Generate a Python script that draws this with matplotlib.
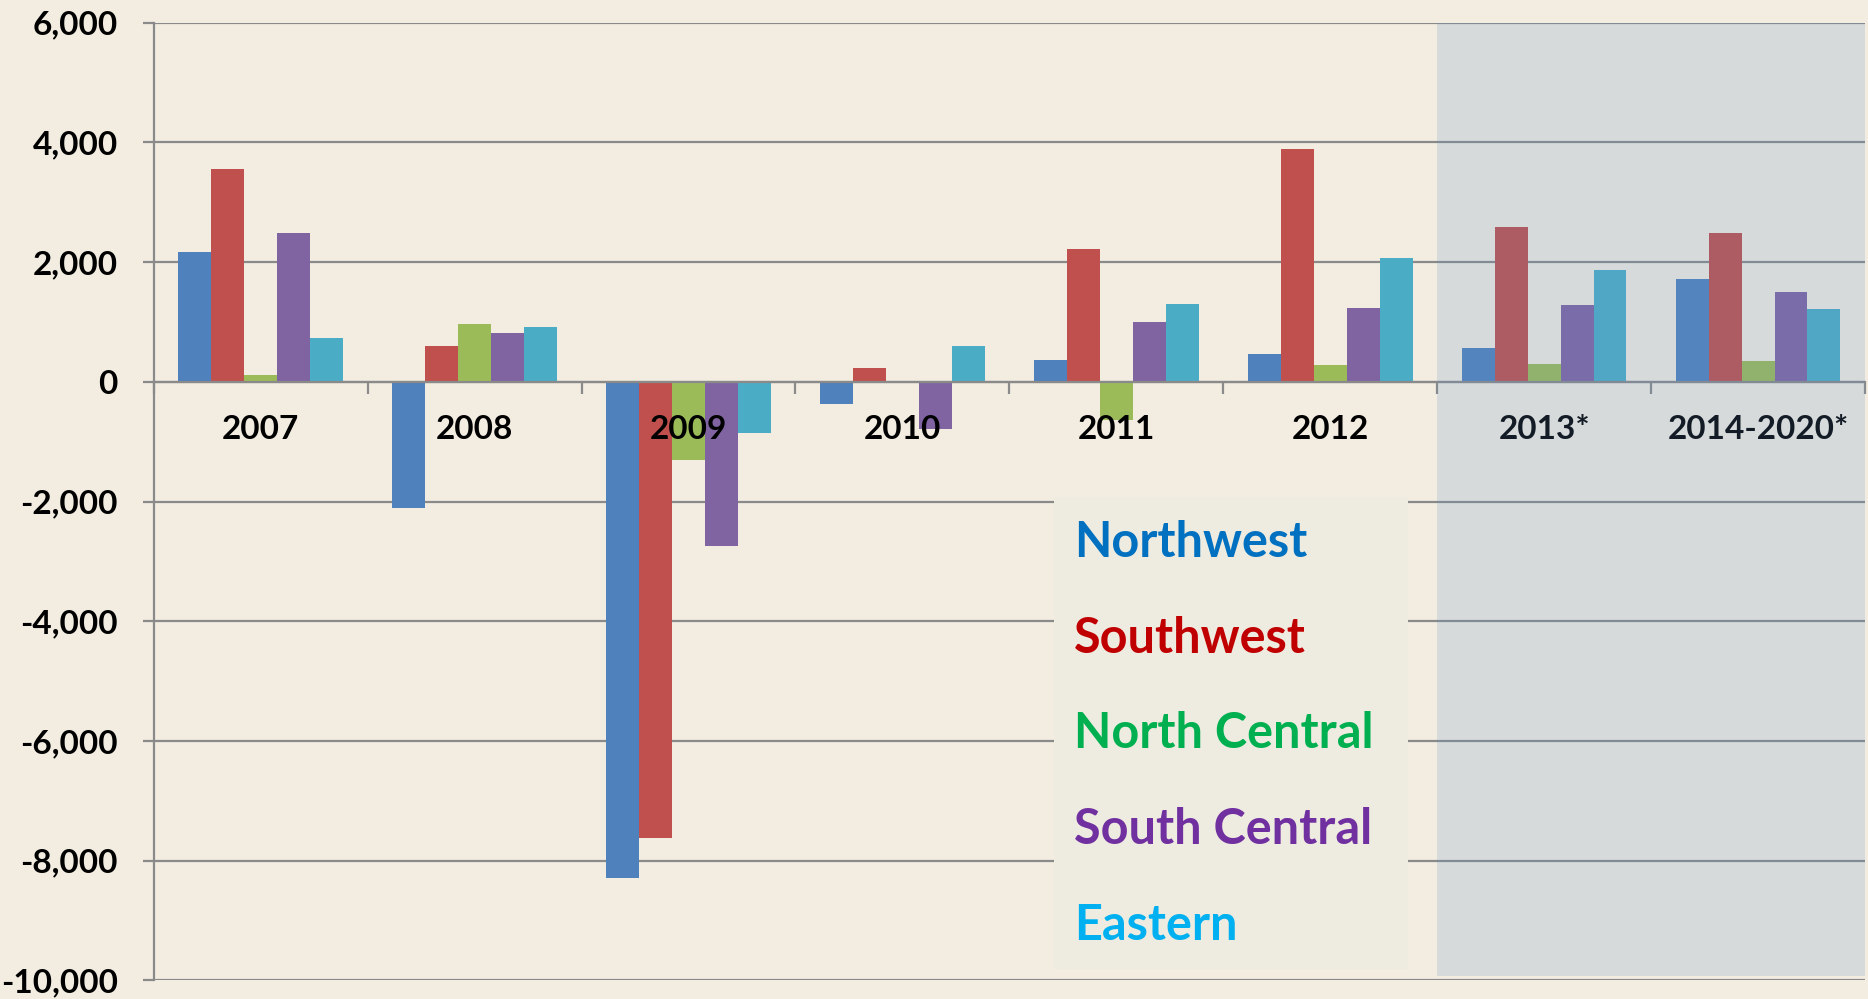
import matplotlib
matplotlib.use("Agg")
import matplotlib.pyplot as plt
from matplotlib.patches import Rectangle
from matplotlib.ticker import FuncFormatter
from matplotlib.transforms import ScaledTranslation
import numpy as np

plt.rcParams["font.family"] = ["Lato", "DejaVu Sans"]

# ── Data ────────────────────────────────────────────────────────────────
categories = ["2007", "2008", "2009", "2010", "2011", "2012", "2013*", "2014-2020*"]
regions = ["Northwest", "Southwest", "North Central", "South Central", "Eastern"]

northwest = [2160, -2100, -8280, -370, 370, 470, 570, 1710]
southwest = [3560, 590, -7620, 230, 2220, 3890, 2580, 2490]
north_central = [120, 960, -1310, 20, -640, 280, 290, 350]
south_central = [2490, 820, -2750, -780, 1000, 1240, 1290, 1500]
eastern = [740, 920, -850, 600, 1300, 2060, 1860, 1220]

forecast_start = "2013*"  # first projected category (shaded)

# ── Style ───────────────────────────────────────────────────────────────
BG = "#F3EDE1"
GRID = "#8A8A8A"
BAR_COLORS = ["#4F81BD", "#C0504D", "#9BBB59", "#8064A2", "#4BACC6"]
TEXT_COLORS = ["#0070C0", "#C00000", "#00B050", "#7030A0", "#00B0F0"]


def main():
    series = [northwest, southwest, north_central, south_central, eastern]
    n_cat = len(categories)
    x = np.arange(n_cat)
    width = 1 / 6.5

    fig = plt.figure(figsize=(18.68, 9.99), dpi=100, facecolor=BG)
    ax = fig.add_axes([0.0823, 0.01852, 0.9161, 0.95886])
    ax.set_facecolor(BG)

    for i, (vals, col) in enumerate(zip(series, BAR_COLORS)):
        ax.bar(x + (i - 2) * width, vals, width, color=col, zorder=2, linewidth=0)

    ax.set_xlim(-0.5, n_cat - 0.5)
    ax.set_ylim(-10000, 6000)

    # ── Axes / grid ─────────────────────────────────────────────────────
    ax.set_axisbelow(True)
    ax.set_yticks(np.arange(-10000, 6001, 2000))
    ax.yaxis.set_major_formatter(FuncFormatter(lambda v, _: f"{v:,.0f}"))
    ax.yaxis.grid(True, color=GRID, linewidth=1.6)
    ax.tick_params(axis="y", length=8, width=1.6, color=GRID, pad=18,
                   labelsize=24)
    for lab in ax.get_yticklabels():
        lab.set_fontweight("bold")

    for side in ("top", "right"):
        ax.spines[side].set_visible(False)
    for side in ("left", "bottom"):
        ax.spines[side].set_color(GRID)
        ax.spines[side].set_linewidth(1.6)
    ax.spines["bottom"].set_position(("data", 0))

    # category boundary ticks, labels drawn as text above the bars
    ax.set_xticks(np.arange(-0.5, n_cat, 1))
    ax.set_xticklabels([])
    ax.tick_params(axis="x", which="major", length=8.5, width=1.6, color=GRID)
    lab_tr = ax.transData + ScaledTranslation(0, -24 / 72, fig.dpi_scale_trans)
    for xi, name in zip(x, categories):
        ax.text(xi, 0, name, transform=lab_tr, ha="center", va="top",
                fontsize=24, fontweight="bold", color="black", zorder=3)

    # ── Projected period shading ────────────────────────────────────────
    i0 = categories.index(forecast_start)
    ax.axvspan(i0 - 0.5, n_cat - 0.5, ymin=0.005, ymax=1.0,
               color=(100 / 255, 145 / 255, 194 / 255), alpha=0.2,
               linewidth=0, zorder=4)

    # ── Text legend box ─────────────────────────────────────────────────
    ax.add_patch(Rectangle((0.526, 0.012), 0.207, 0.493, transform=ax.transAxes,
                           facecolor="#EEEBE0", edgecolor="none", zorder=3))
    baselines = [0.442, 0.342, 0.243, 0.142, 0.042]
    for name, col, yb in zip(regions, TEXT_COLORS, baselines):
        ax.text(0.538, yb, name, transform=ax.transAxes, color=col,
                fontsize=35, fontweight="bold", va="baseline", ha="left",
                zorder=5)

    fig.savefig("out.png", dpi=100, facecolor=BG)
    plt.close(fig)


if __name__ == "__main__":
    main()
